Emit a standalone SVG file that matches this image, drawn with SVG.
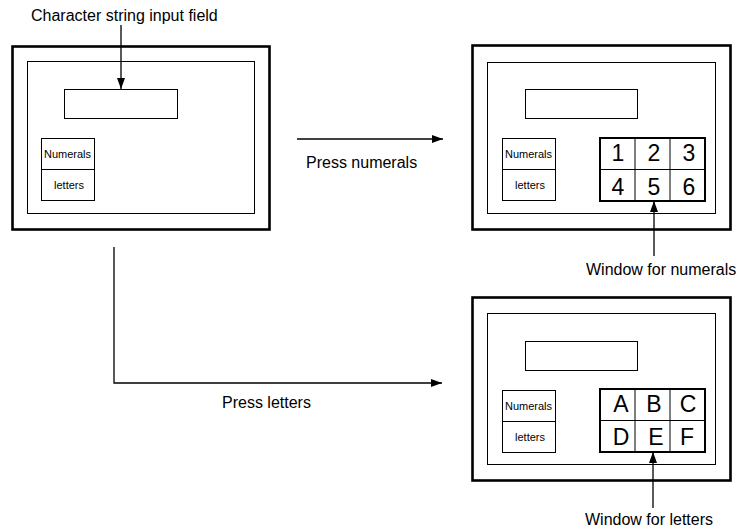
<svg xmlns="http://www.w3.org/2000/svg" width="743" height="529" viewBox="0 0 743 529">
<defs>
<marker id="ah" markerUnits="userSpaceOnUse" markerWidth="12" markerHeight="9" refX="11" refY="4" orient="auto">
<path d="M0,0 L11,4 L0,8 z" fill="#000"/>
</marker>
<style>
.outer{fill:#fff;stroke:#000;stroke-width:2.6}
.thin{fill:none;stroke:#000;stroke-width:1}
.pad{fill:none;stroke:#000;stroke-width:2}
.conn{fill:none;stroke:#000;stroke-width:1.3}
text{font-family:"Liberation Sans",Arial,sans-serif;fill:#000}
.lbl{font-size:16px}
.btn{font-size:11px;text-anchor:middle}
.key{font-size:23px;text-anchor:middle}
</style>
</defs>
<rect width="743" height="529" fill="#fff"/>
<g id="screen-initial">
<rect class="outer" x="12.5" y="46.5" width="257" height="183"/>
<rect class="thin" x="27.5" y="61.5" width="227" height="152"/>
<rect class="thin" x="64.5" y="89.5" width="113" height="29"/>
<rect class="thin" x="41.5" y="138.5" width="53" height="31"/>
<rect class="thin" x="41.5" y="169.5" width="53" height="31"/>
<text class="btn" x="67.5" y="157.5">Numerals</text>
<text class="btn" x="69" y="188.5">letters</text>
</g>
<g id="screen-numerals">
<rect class="outer" x="472.5" y="45.5" width="258" height="184"/>
<rect class="thin" x="487.5" y="62.5" width="228" height="151"/>
<rect class="thin" x="525.5" y="89.5" width="112" height="29"/>
<rect class="thin" x="502.5" y="138.5" width="53" height="31"/>
<rect class="thin" x="502.5" y="169.5" width="53" height="31"/>
<text class="btn" x="528.5" y="157.5">Numerals</text>
<text class="btn" x="530" y="188.5">letters</text>
<rect class="pad" x="600" y="138" width="105" height="63"/>
<path class="thin" d="M635,138 V201 M670,138 V201 M600,169.5 H705"/>
<text class="key" x="618" y="161">1</text>
<text class="key" x="654" y="161">2</text>
<text class="key" x="689" y="161">3</text>
<text class="key" x="618" y="195">4</text>
<text class="key" x="654" y="195">5</text>
<text class="key" x="689" y="195">6</text>
</g>
<g id="screen-letters">
<rect class="outer" x="472.5" y="297.5" width="258" height="183"/>
<rect class="thin" x="487.5" y="313.5" width="228" height="151"/>
<rect class="thin" x="525.5" y="341.5" width="112" height="29"/>
<rect class="thin" x="502.5" y="390.5" width="53" height="31"/>
<rect class="thin" x="502.5" y="421.5" width="53" height="31"/>
<text class="btn" x="528.5" y="409.5">Numerals</text>
<text class="btn" x="530" y="440.5">letters</text>
<rect class="pad" x="600" y="389" width="105" height="63"/>
<path class="thin" d="M635,389 V452 M670,389 V452 M600,420.5 H705"/>
<text class="key" x="621" y="412">A</text>
<text class="key" x="654" y="412">B</text>
<text class="key" x="688" y="412">C</text>
<text class="key" x="621" y="445">D</text>
<text class="key" x="656" y="445">E</text>
<text class="key" x="687" y="445">F</text>
</g>
<g id="labels">
<text class="lbl" x="31" y="21">Character string input field</text>
<text class="lbl" x="306" y="168">Press numerals</text>
<text class="lbl" x="222" y="408">Press letters</text>
<text class="lbl" x="586" y="275">Window for numerals</text>
<text class="lbl" x="585" y="525">Window for letters</text>
</g>
<g id="connectors">
<line class="conn" x1="121" y1="25" x2="121" y2="89" marker-end="url(#ah)"/>
<line class="conn" x1="297" y1="139" x2="443" y2="139" marker-end="url(#ah)"/>
<polyline class="conn" points="114,247 114,383 442,383" marker-end="url(#ah)"/>
<line class="conn" x1="654" y1="256" x2="654" y2="201" marker-end="url(#ah)"/>
<line class="conn" x1="653" y1="508" x2="653" y2="452" marker-end="url(#ah)"/>
</g>
</svg>
